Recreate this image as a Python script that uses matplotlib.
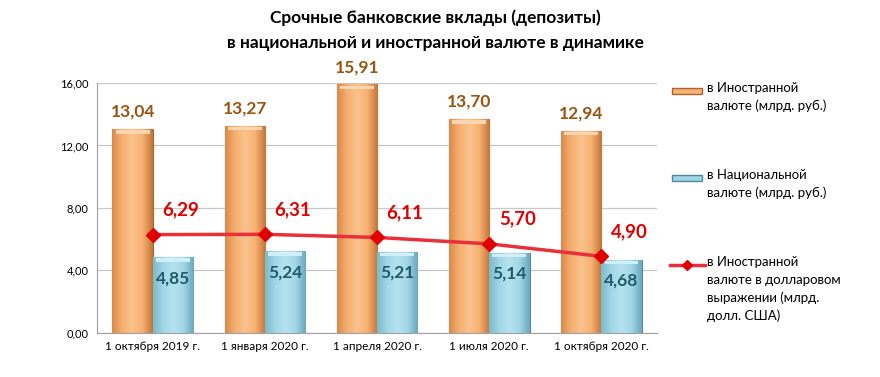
import numpy as np
import matplotlib
matplotlib.use('Agg')
import matplotlib.pyplot as plt
from matplotlib.patches import Rectangle
from matplotlib.lines import Line2D
from matplotlib.colors import LinearSegmentedColormap

plt.rcParams['font.family'] = ['Lato', 'DejaVu Sans']

# ── данные ──
dates = ['1 октября 2019 г.', '1 января 2020 г.', '1 апреля 2020 г.',
         '1 июля 2020 г.', '1 октября 2020 г.']
foreign_rub = [13.04, 13.27, 15.91, 13.70, 12.94]
national_rub = [4.85, 5.24, 5.21, 5.14, 4.68]
foreign_usd = [6.29, 6.31, 6.11, 5.70, 4.90]
yticks = [0, 4, 8, 12, 16]

ORANGE = '#F9B373'
ORANGE_EDGE = '#A8652E'
BLUE = '#9FD5E6'
BLUE_EDGE = '#4E8A9E'
RED = '#E8303A'

cm_orange = LinearSegmentedColormap.from_list(
    'o', ['#D98A4A', '#F7B070', '#FAC28E', '#F7B070', '#C4763A'])
cm_blue = LinearSegmentedColormap.from_list(
    'b', ['#7CBACE', '#A2D7E8', '#B6E2EF', '#A2D7E8', '#6EA8BC'])

def fmt(v):
    return f'{v:.2f}'.replace('.', ',')

fig = plt.figure(figsize=(8.8, 3.77), dpi=100)
ax = fig.add_axes([0.110, 0.117, 0.637, 0.663])

x = np.arange(len(dates))
w = 0.36

bo = ax.bar(x - w / 2, foreign_rub, w, color=ORANGE, edgecolor=ORANGE_EDGE, linewidth=0.8, zorder=2)
bn = ax.bar(x + w / 2, national_rub, w, color=BLUE, edgecolor=BLUE_EDGE, linewidth=0.8, zorder=2)

# градиент внутри баров (имитация объёма)
grad = np.linspace(0, 1, 64).reshape(1, -1)
for bars, cm, top_c in [(bo, cm_orange, '#FCD6AE'), (bn, cm_blue, '#D2EEF6')]:
    for p in bars:
        x0, y0 = p.get_x(), p.get_y()
        bw, bh = p.get_width(), p.get_height()
        im = ax.imshow(grad, cmap=cm, aspect='auto', extent=[x0, x0 + bw, y0, y0 + bh],
                       zorder=2.5, interpolation='bicubic')
        im.set_clip_path(p)
        ax.add_patch(Rectangle((x0 + bw * 0.08, y0 + bh - 0.3), bw * 0.84, 0.22,
                               facecolor=top_c, linewidth=0, zorder=2.6))

ax.plot(x, foreign_usd, color=RED, linewidth=2.5, marker='D', markersize=7,
        markerfacecolor='#E00000', markeredgecolor='#E00000', zorder=4)

for xi, v in zip(x, foreign_rub):
    ax.text(xi - w / 2, v + 1.1, fmt(v), ha='center', va='center',
            fontsize=12.5, fontweight='bold', color='#9A5410')
for xi, v in zip(x, national_rub):
    ax.text(xi + w / 2, v - 1.35, fmt(v), ha='center', va='center',
            fontsize=12.5, fontweight='bold', color='#215B6B', zorder=5)
for xi, v in zip(x, foreign_usd):
    ax.text(xi + 0.25, v + 1.6, fmt(v), ha='center', va='center',
            fontsize=13.5, fontweight='bold', color='#E00000', zorder=5)

ax.set_xlim(-0.5, len(dates) - 0.5)
ax.set_ylim(0, 16)
ax.set_yticks(yticks)
ax.set_yticklabels([fmt(t) for t in yticks], fontsize=8)
ax.set_xticks(x)
ax.set_xticklabels(dates, fontsize=8.5)
ax.tick_params(length=0, pad=6)
ax.grid(axis='y', color='#C8C8C8', linewidth=0.9, zorder=0)
ax.set_axisbelow(True)
for s in ['top', 'right']:
    ax.spines[s].set_visible(False)
ax.spines['left'].set_color('#A0A0A0')
ax.spines['bottom'].set_color('#A0A0A0')

fig.text(0.495, 0.952, 'Срочные банковские вклады (депозиты)', ha='center', va='center',
         fontsize=12.5, fontweight='bold')
fig.text(0.495, 0.885, 'в национальной и иностранной валюте в динамике', ha='center', va='center',
         fontsize=12.5, fontweight='bold')

# ── легенда справа ──
W, H = 880, 377
def fx(px): return px / W
def fy(py): return 1 - py / H

fig.add_artist(Rectangle((fx(672), fy(94)), fx(702) - fx(672), 6 / H,
                         facecolor=ORANGE, edgecolor=ORANGE_EDGE, linewidth=1, transform=fig.transFigure))
fig.add_artist(Rectangle((fx(672), fy(181)), fx(702) - fx(672), 6 / H,
                         facecolor=BLUE, edgecolor=BLUE_EDGE, linewidth=1, transform=fig.transFigure))
fig.add_artist(Line2D([fx(670), fx(705)], [fy(265), fy(265)], color=RED, linewidth=2.5,
                      transform=fig.transFigure))
fig.add_artist(Line2D([fx(687)], [fy(265)], marker='D', markersize=5, color='#E00000',
                      transform=fig.transFigure))

leg_labels = ['в Иностранной\nвалюте (млрд. руб.)',
              'в Национальной\nвалюте (млрд. руб.)',
              'в Иностранной\nвалюте в долларовом\nвыражении (млрд.\nдолл. США)']
for lab, py in zip(leg_labels, [82, 169, 256]):
    fig.text(fx(707), fy(py), lab, ha='left', va='top', fontsize=9.5, linespacing=1.55)

fig.savefig('out.png', dpi=100)
